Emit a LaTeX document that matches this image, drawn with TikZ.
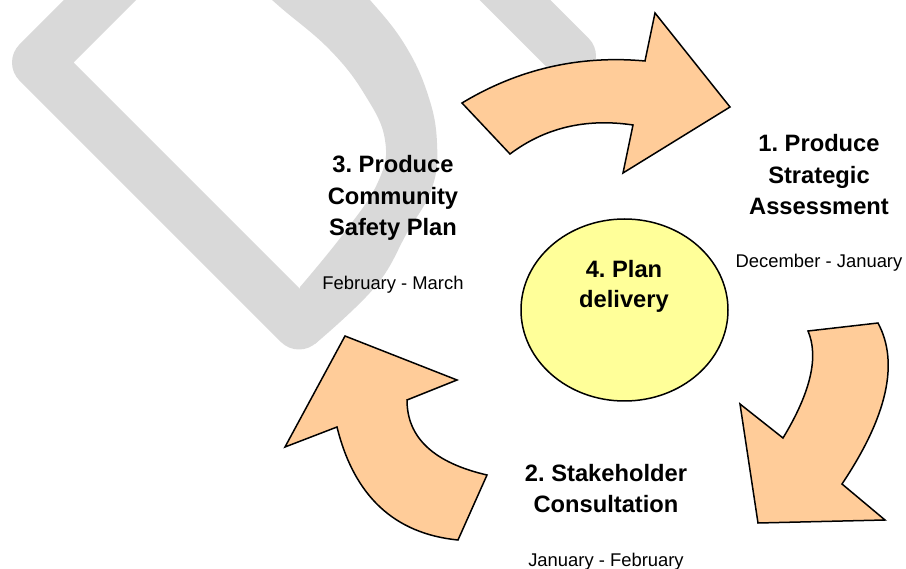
\documentclass[tikz,border=0pt]{standalone}
\usepackage{fontspec}
\setmainfont{Liberation Sans}
\usetikzlibrary{positioning}
\usetikzlibrary{shapes.geometric}
\definecolor{peach}{RGB}{255,204,153}
\definecolor{paleyellow}{RGB}{255,255,153}
\definecolor{draftgray}{RGB}{217,217,217}
\frenchspacing

\begin{document}
\begin{tikzpicture}[x=1pt,y=-1pt,
  draft/.style={draw=draftgray,fill=draftgray,line cap=round,line join=round},
  flow/.style={draw=black,line width=1.5pt,fill=peach,line join=miter},
  hub/.style={draw=black,line width=1.5pt,fill=paleyellow,ellipse,minimum width=207pt,minimum height=182pt,inner sep=0pt},
  title/.style={font=\bfseries\fontsize{23.7}{31.5}\selectfont,align=center,anchor=base,inner sep=0pt},
  period/.style={font=\fontsize{18.4}{22}\selectfont,anchor=base,inner sep=0pt}]
\useasboundingbox (0,0) rectangle (906,569);

% watermark behind the cycle
\begin{scope}
\clip (0,0) rectangle (906,569);
\draw[draft,fill=none,line width=51pt] (160,-60) -- (37.5,62.5) -- (299,324);
\fill[draftgray] (315,344) -- plot[smooth,tension=0.7] coordinates {(315,344) (375,287) (407,233) (432,188) (437,143) (428,95) (405,45) (370,0) (340,-30)}
  -- plot[smooth,tension=0.7] coordinates {(250,-20) (280,7) (330,50) (365,95) (385,140) (378,182) (344,233) (300,287)} -- (299,324) -- cycle;
\draw[draft,line width=50pt] (465,-50) -- (571,56);
\end{scope}

% the three arrows
\draw[flow] (462,103) .. controls (518.3,69) and (579.3,55) .. (645,61) -- (655,13) -- (730,107) -- (623,173) -- (633,125)
  .. controls (586,118) and (545,127.7) .. (510,154) -- cycle;
\draw[flow] (878,323) .. controls (899.3,362.7) and (887.3,416.3) .. (842,484) -- (885,520) -- (758,523) -- (740,404) -- (783,438)
  .. controls (810.7,392.3) and (819,356.7) .. (808,331) -- cycle;
\draw[flow] (458,540) .. controls (394.3,533.7) and (354,496) .. (337,427) -- (285,447) -- (345,336) -- (457,380) -- (407,400)
  .. controls (407,437.7) and (433.7,462.7) .. (487,475) -- cycle;

\node[hub] (plan) at (624.5,310) {};
\node[title,font=\bfseries\fontsize{23.7}{29.5}\selectfont] (plantitle) at (624,307.5) {4. Plan\\delivery};

\node[title] (step1) at (819,215) {1. Produce\\Strategic\\Assessment};
\node[period] (date1) at (819,268) {December - January};
\node[title] (step2) at (606,513) {2. Stakeholder\\Consultation};
\node[period] (date2) at (606,566) {January - February};
\node[title] (step3) at (393,236) {3. Produce\\Community\\Safety Plan};
\node[period] (date3) at (393,290) {February - March};
\end{tikzpicture}
\end{document}
